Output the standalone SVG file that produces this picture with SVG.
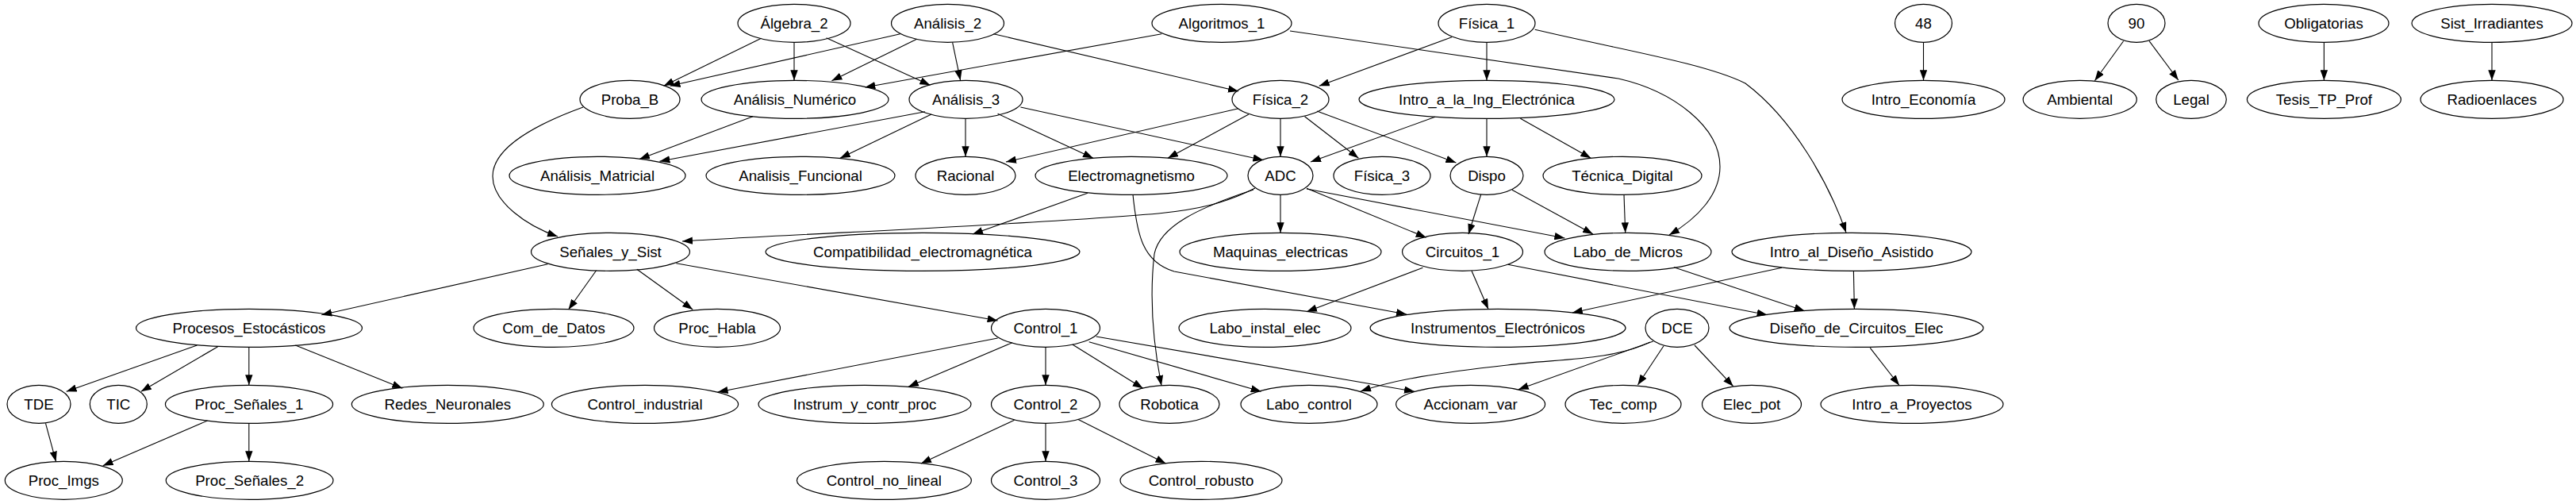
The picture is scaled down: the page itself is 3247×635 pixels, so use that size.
<svg xmlns="http://www.w3.org/2000/svg" width="3247" height="635" viewBox="0 0 3247 635">
<style>
.n ellipse{fill:none;stroke:#000;stroke-width:1.2}
.n text{font-family:"Liberation Sans",Arial,Helvetica,sans-serif;font-size:18.67px;text-anchor:middle;fill:#000}
#edges path{fill:none;stroke:#000;stroke-width:1.1;marker-end:url(#ah)}
</style>
<defs>
<marker id="ah" viewBox="0 0 13 9.4" refX="13" refY="4.7" markerWidth="13" markerHeight="9.4" markerUnits="userSpaceOnUse" orient="auto">
<path d="M0,0 L13,4.7 L0,9.4 z" fill="#000"/>
</marker>
</defs>
<rect width="3247" height="635" fill="#fff"/>
<g id="edges">
<path d="M959.5,48.3 L836.6,108.3"/>
<path d="M1001,53.3 L1001,101.3"/>
<path d="M1041.6,47.7 L1172.4,107.3"/>
<path d="M1134.7,42.7 L844.5,108.3"/>
<path d="M1155.6,49.3 L1048.4,101.7"/>
<path d="M1200.6,53.3 L1210.6,101.3"/>
<path d="M1252.4,42.7 L1561,115"/>
<path d="M1464.2,42.7 L1090.3,110"/>
<path d="M1626,39 L2040,99 C2110,115 2168,160 2168,210 C2168,245 2140,275 2104,296"/>
<path d="M1830,46.7 L1662.8,108.3"/>
<path d="M1874,53.3 L1874,101.3"/>
<path d="M1934.7,37.3 C2040,62 2150,80 2200,105 C2260,150 2305,230 2327,293"/>
<path d="M2424.5,53.3 L2424.5,101.3"/>
<path d="M2676.6,51.7 L2640.4,101.7"/>
<path d="M2709,51.7 L2745.8,101"/>
<path d="M2929.4,53.3 L2929.4,101.3"/>
<path d="M3141,53.3 L3141,101.3"/>
<path d="M735,135 C680,155 621,185 621,222 C621,255 665,285 703,298"/>
<path d="M949,146.7 L806,200.5"/>
<path d="M1166,140.7 L831.4,203.3"/>
<path d="M1174,144 L1058.9,199.3"/>
<path d="M1217,149.3 L1217,197.3"/>
<path d="M1257.6,143.3 L1378,199.3"/>
<path d="M1286.4,135 L1592.4,201.7"/>
<path d="M1561,136.7 L1268,204"/>
<path d="M1574,144 L1472,199.3"/>
<path d="M1614,149.3 L1614,197.3"/>
<path d="M1644.5,146.7 L1712.4,199.3"/>
<path d="M1660,140 L1835.4,205"/>
<path d="M1809,147.3 L1652,204"/>
<path d="M1874,149.3 L1874,197.3"/>
<path d="M1916.4,149.3 L2005.3,199.3"/>
<path d="M1371,243.3 L1226,295"/>
<path d="M1428,245 C1433,295 1440,330 1480,342 L1773,396"/>
<path d="M1582,237 C1545,256 1510,264 1460,269 C1300,283 1000,295 860,304"/>
<path d="M1614,245.3 L1614,293.3"/>
<path d="M1647,237.3 L1797.7,299.3"/>
<path d="M1647,238 L1972.4,300"/>
<path d="M1580,239 C1510,262 1462,285 1455,320 C1448,380 1455,440 1464,486"/>
<path d="M1866.7,245 L1851,295"/>
<path d="M1906,239.3 L2008,295"/>
<path d="M2047,245.3 L2048.7,293.3"/>
<path d="M690.4,332.7 L405.3,396.7"/>
<path d="M751.6,340.7 L716.5,390"/>
<path d="M802.8,339.3 L873.2,390"/>
<path d="M852.3,331.7 L1257.6,404"/>
<path d="M1793.5,337.3 L1647,392.7"/>
<path d="M1855,341.3 L1876,389.5"/>
<path d="M1900.7,333.3 L2227.6,396.7"/>
<path d="M2110,336.7 L2274.7,391.7"/>
<path d="M2246,337.3 L1981.8,394"/>
<path d="M2336.4,341.3 L2337.4,389.3"/>
<path d="M248.4,435 L83.7,493.3"/>
<path d="M274.6,436.7 L177.8,493.3"/>
<path d="M313.8,437.3 L313.8,485.3"/>
<path d="M372.4,435 L507.3,489.3"/>
<path d="M1257.6,426 L904.6,494"/>
<path d="M1276,431.7 L1145,487.3"/>
<path d="M1318,437.3 L1318,485.3"/>
<path d="M1351.8,434 L1440.7,489.3"/>
<path d="M1372.7,430.7 L1589.7,493.3"/>
<path d="M1381.6,424 L1783,493.3"/>
<path d="M2080,431 C2030,455 1960,452 1900,460 C1810,470 1760,478 1715,493"/>
<path d="M2083.8,430 L1913.8,490.7"/>
<path d="M2096.9,436 L2064.4,485"/>
<path d="M2136,435 L2184.7,486.7"/>
<path d="M2357.3,438.3 L2394,485.5"/>
<path d="M57.5,533.3 L70.6,581.7"/>
<path d="M261.5,530 L129.7,586.7"/>
<path d="M313.8,533.3 L313.8,581.3"/>
<path d="M1278.6,529.3 L1160.9,584"/>
<path d="M1318,533.3 L1318,581.3"/>
<path d="M1358.6,528.3 L1469.5,584"/>
</g>
<g id="n_algebra2" class="n"><ellipse cx="1001" cy="29.33" rx="71" ry="24"/><text x="1001" y="35.8">Álgebra_2</text></g>
<g id="n_analisis2" class="n"><ellipse cx="1194.5" cy="29.33" rx="71" ry="24"/><text x="1194.5" y="35.8">Análisis_2</text></g>
<g id="n_algoritmos1" class="n"><ellipse cx="1540" cy="29.33" rx="88" ry="24"/><text x="1540" y="35.8">Algoritmos_1</text></g>
<g id="n_fisica1" class="n"><ellipse cx="1874" cy="29.33" rx="61" ry="24"/><text x="1874" y="35.8">Física_1</text></g>
<g id="n_48" class="n"><ellipse cx="2424.5" cy="29.33" rx="36" ry="24"/><text x="2424.5" y="35.8">48</text></g>
<g id="n_90" class="n"><ellipse cx="2693" cy="29.33" rx="36" ry="24"/><text x="2693" y="35.8">90</text></g>
<g id="n_obligatorias" class="n"><ellipse cx="2929" cy="29.33" rx="82" ry="24"/><text x="2929" y="35.8">Obligatorias</text></g>
<g id="n_sistirr" class="n"><ellipse cx="3141" cy="29.33" rx="101" ry="24"/><text x="3141" y="35.8">Sist_Irradiantes</text></g>
<g id="n_probab" class="n"><ellipse cx="794" cy="125.33" rx="63" ry="24"/><text x="794" y="131.8">Proba_B</text></g>
<g id="n_analnum" class="n"><ellipse cx="1002" cy="125.33" rx="118" ry="24"/><text x="1002" y="131.8">Análisis_Numérico</text></g>
<g id="n_analisis3" class="n"><ellipse cx="1217.5" cy="125.33" rx="71.5" ry="24"/><text x="1217.5" y="131.8">Análisis_3</text></g>
<g id="n_fisica2" class="n"><ellipse cx="1614" cy="125.33" rx="61" ry="24"/><text x="1614" y="131.8">Física_2</text></g>
<g id="n_introing" class="n"><ellipse cx="1874" cy="125.33" rx="161" ry="24"/><text x="1874" y="131.8">Intro_a_la_Ing_Electrónica</text></g>
<g id="n_introeco" class="n"><ellipse cx="2424.5" cy="125.33" rx="102.5" ry="24"/><text x="2424.5" y="131.8">Intro_Economía</text></g>
<g id="n_ambiental" class="n"><ellipse cx="2621.7" cy="125.33" rx="71.6" ry="24"/><text x="2621.7" y="131.8">Ambiental</text></g>
<g id="n_legal" class="n"><ellipse cx="2762" cy="125.33" rx="44.3" ry="24"/><text x="2762" y="131.8">Legal</text></g>
<g id="n_tesis" class="n"><ellipse cx="2929.4" cy="125.33" rx="97" ry="24"/><text x="2929.4" y="131.8">Tesis_TP_Prof</text></g>
<g id="n_radio" class="n"><ellipse cx="3141" cy="125.33" rx="90" ry="24"/><text x="3141" y="131.8">Radioenlaces</text></g>
<g id="n_analmat" class="n"><ellipse cx="753" cy="221.33" rx="111" ry="24"/><text x="753" y="227.8">Análisis_Matricial</text></g>
<g id="n_analfun" class="n"><ellipse cx="1009" cy="221.33" rx="119" ry="24"/><text x="1009" y="227.8">Analisis_Funcional</text></g>
<g id="n_racional" class="n"><ellipse cx="1217" cy="221.33" rx="63" ry="24"/><text x="1217" y="227.8">Racional</text></g>
<g id="n_electromag" class="n"><ellipse cx="1426" cy="221.33" rx="121" ry="24"/><text x="1426" y="227.8">Electromagnetismo</text></g>
<g id="n_adc" class="n"><ellipse cx="1614" cy="221.33" rx="41" ry="24"/><text x="1614" y="227.8">ADC</text></g>
<g id="n_fisica3" class="n"><ellipse cx="1742" cy="221.33" rx="61" ry="24"/><text x="1742" y="227.8">Física_3</text></g>
<g id="n_dispo" class="n"><ellipse cx="1874" cy="221.33" rx="46" ry="24"/><text x="1874" y="227.8">Dispo</text></g>
<g id="n_tecdig" class="n"><ellipse cx="2045" cy="221.33" rx="100" ry="24"/><text x="2045" y="227.8">Técnica_Digital</text></g>
<g id="n_senales" class="n"><ellipse cx="769.5" cy="317.33" rx="100" ry="24"/><text x="769.5" y="323.8">Señales_y_Sist</text></g>
<g id="n_compat" class="n"><ellipse cx="1163" cy="317.33" rx="198" ry="24"/><text x="1163" y="323.8">Compatibilidad_electromagnética</text></g>
<g id="n_maquinas" class="n"><ellipse cx="1614" cy="317.33" rx="127" ry="24"/><text x="1614" y="323.8">Maquinas_electricas</text></g>
<g id="n_circuitos1" class="n"><ellipse cx="1843.5" cy="317.33" rx="76" ry="24"/><text x="1843.5" y="323.8">Circuitos_1</text></g>
<g id="n_labomicros" class="n"><ellipse cx="2052" cy="317.33" rx="105" ry="24"/><text x="2052" y="323.8">Labo_de_Micros</text></g>
<g id="n_introdis" class="n"><ellipse cx="2334" cy="317.33" rx="151" ry="24"/><text x="2334" y="323.8">Intro_al_Diseño_Asistido</text></g>
<g id="n_procest" class="n"><ellipse cx="314" cy="413.33" rx="142.5" ry="24"/><text x="314" y="419.8">Procesos_Estocásticos</text></g>
<g id="n_comdatos" class="n"><ellipse cx="698" cy="413.33" rx="101" ry="24"/><text x="698" y="419.8">Com_de_Datos</text></g>
<g id="n_prochabla" class="n"><ellipse cx="904" cy="413.33" rx="79.5" ry="24"/><text x="904" y="419.8">Proc_Habla</text></g>
<g id="n_control1" class="n"><ellipse cx="1318" cy="413.33" rx="68.5" ry="24"/><text x="1318" y="419.8">Control_1</text></g>
<g id="n_laboinst" class="n"><ellipse cx="1594.5" cy="413.33" rx="108.5" ry="24"/><text x="1594.5" y="419.8">Labo_instal_elec</text></g>
<g id="n_instrel" class="n"><ellipse cx="1888" cy="413.33" rx="161" ry="24"/><text x="1888" y="419.8">Instrumentos_Electrónicos</text></g>
<g id="n_dce" class="n"><ellipse cx="2114" cy="413.33" rx="40" ry="24"/><text x="2114" y="419.8">DCE</text></g>
<g id="n_disenocirc" class="n"><ellipse cx="2340" cy="413.33" rx="160" ry="24"/><text x="2340" y="419.8">Diseño_de_Circuitos_Elec</text></g>
<g id="n_tde" class="n"><ellipse cx="49" cy="509.33" rx="40" ry="24"/><text x="49" y="515.8">TDE</text></g>
<g id="n_tic" class="n"><ellipse cx="149.3" cy="509.33" rx="36" ry="24"/><text x="149.3" y="515.8">TIC</text></g>
<g id="n_procsen1" class="n"><ellipse cx="314" cy="509.33" rx="105.6" ry="24"/><text x="314" y="515.8">Proc_Señales_1</text></g>
<g id="n_redes" class="n"><ellipse cx="564.3" cy="509.33" rx="121" ry="24"/><text x="564.3" y="515.8">Redes_Neuronales</text></g>
<g id="n_contind" class="n"><ellipse cx="813" cy="509.33" rx="117.6" ry="24"/><text x="813" y="515.8">Control_industrial</text></g>
<g id="n_instrum" class="n"><ellipse cx="1090" cy="509.33" rx="134" ry="24"/><text x="1090" y="515.8">Instrum_y_contr_proc</text></g>
<g id="n_control2" class="n"><ellipse cx="1318" cy="509.33" rx="68.5" ry="24"/><text x="1318" y="515.8">Control_2</text></g>
<g id="n_robotica" class="n"><ellipse cx="1474" cy="509.33" rx="63" ry="24"/><text x="1474" y="515.8">Robotica</text></g>
<g id="n_labocontrol" class="n"><ellipse cx="1650" cy="509.33" rx="86" ry="24"/><text x="1650" y="515.8">Labo_control</text></g>
<g id="n_accionam" class="n"><ellipse cx="1853.6" cy="509.33" rx="94" ry="24"/><text x="1853.6" y="515.8">Accionam_var</text></g>
<g id="n_teccomp" class="n"><ellipse cx="2046" cy="509.33" rx="73" ry="24"/><text x="2046" y="515.8">Tec_comp</text></g>
<g id="n_elecpot" class="n"><ellipse cx="2208" cy="509.33" rx="62.5" ry="24"/><text x="2208" y="515.8">Elec_pot</text></g>
<g id="n_introproy" class="n"><ellipse cx="2410" cy="509.33" rx="115" ry="24"/><text x="2410" y="515.8">Intro_a_Proyectos</text></g>
<g id="n_procimgs" class="n"><ellipse cx="80.3" cy="605.33" rx="74" ry="24"/><text x="80.3" y="611.8">Proc_Imgs</text></g>
<g id="n_procsen2" class="n"><ellipse cx="314.6" cy="605.33" rx="105.4" ry="24"/><text x="314.6" y="611.8">Proc_Señales_2</text></g>
<g id="n_contnolin" class="n"><ellipse cx="1114.4" cy="605.33" rx="110" ry="24"/><text x="1114.4" y="611.8">Control_no_lineal</text></g>
<g id="n_control3" class="n"><ellipse cx="1318" cy="605.33" rx="68.5" ry="24"/><text x="1318" y="611.8">Control_3</text></g>
<g id="n_controb" class="n"><ellipse cx="1514" cy="605.33" rx="102" ry="24"/><text x="1514" y="611.8">Control_robusto</text></g>
</svg>
